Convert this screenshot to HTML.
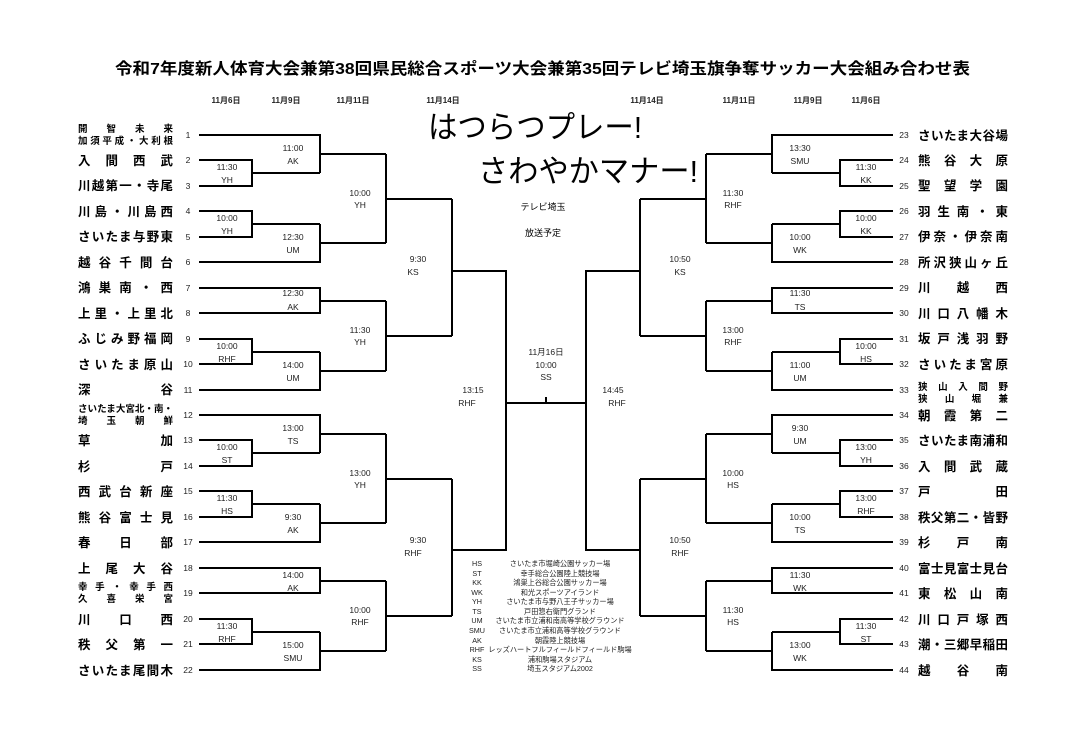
<!DOCTYPE html>
<html><head><meta charset="utf-8"><style>
html,body{margin:0;padding:0;background:#fff;}
svg{display:block;font-family:"Liberation Sans","Noto Sans CJK JP",sans-serif;}
.n{font-size:12.5px;font-weight:bold;fill:#000;}
.n2{font-size:9.5px;font-weight:bold;fill:#000;}
.num{font-size:8.5px;fill:#222;text-anchor:middle;}
.l{font-size:8.5px;fill:#222;text-anchor:middle;}
.d{font-size:8px;fill:#222;text-anchor:middle;font-weight:bold;}
.g{font-size:7.2px;fill:#222;}
</style></head><body>
<svg width="1083" height="737" viewBox="0 0 1083 737" xmlns="http://www.w3.org/2000/svg">
<rect width="1083" height="737" fill="#fff"/>
<text x="115" y="74" font-size="16" font-weight="bold" textLength="855" lengthAdjust="spacingAndGlyphs">令和7年度新人体育大会兼第38回県民総合スポーツ大会兼第35回テレビ埼玉旗争奪サッカー大会組み合わせ表</text>
<g class="d">
<text x="226" y="103">11月6日</text><text x="286" y="103">11月9日</text><text x="353" y="103">11月11日</text><text x="443" y="103">11月14日</text>
<text x="647" y="103">11月14日</text><text x="739" y="103">11月11日</text><text x="808" y="103">11月9日</text><text x="866" y="103">11月6日</text>
</g>
<text x="428" y="138" font-size="31" textLength="214" lengthAdjust="spacingAndGlyphs">はつらつプレー!</text>
<text x="478" y="182" font-size="31" textLength="220" lengthAdjust="spacingAndGlyphs">さわやかマナー!</text>
<text x="543" y="210" font-size="9" text-anchor="middle">テレビ埼玉</text>
<text x="543" y="236" font-size="9" text-anchor="middle">放送予定</text>

<g id="br" fill="none" stroke="#000" stroke-width="2">
<path d="M199,160H252V186H199M252,173H320M199,135H320V173M320,154H386"/>
<path d="M199,211H252V237H199M252,224H320M199,262H320V224M320,243H386M386,154V243M386,199H452"/>
<path d="M199,288H320V313H199M320,301H386M199,339H252V364H199M252,352H320M199,390H320V352M320,371H386M386,301V371M386,336H452M452,199V336"/>
<path d="M199,415H320V453M199,440H252V466H199M252,453H320M320,434H386"/>
<path d="M199,491H252V517H199M252,504H320M199,542H320V504M320,523H386M386,434V523M386,479H452"/>
<path d="M199,568H320V593H199M320,581H386M199,619H252V644H199M252,632H320M199,670H320V632M320,651H386M386,581V651M386,616H452M452,479V616"/>
<path d="M452,271H506V550H452"/>
</g>
<use href="#br" transform="translate(1092,0) scale(-1,1)"/>
<path d="M506,403H587M546,397V403" fill="none" stroke="#000" stroke-width="2"/>

<g class="l">
<text x="227" y="170">11:30</text><text x="227" y="183">YH</text>
<text x="227" y="221">10:00</text><text x="227" y="234">YH</text>
<text x="227" y="349">10:00</text><text x="227" y="362">RHF</text>
<text x="227" y="450">10:00</text><text x="227" y="463">ST</text>
<text x="227" y="501">11:30</text><text x="227" y="514">HS</text>
<text x="227" y="629">11:30</text><text x="227" y="642">RHF</text>
<text x="293" y="151">11:00</text><text x="293" y="164">AK</text>
<text x="293" y="240">12:30</text><text x="293" y="253">UM</text>
<text x="293" y="296">12:30</text><text x="293" y="310">AK</text>
<text x="293" y="368">14:00</text><text x="293" y="381">UM</text>
<text x="293" y="431">13:00</text><text x="293" y="444">TS</text>
<text x="293" y="520">9:30</text><text x="293" y="533">AK</text>
<text x="293" y="578">14:00</text><text x="293" y="591">AK</text>
<text x="293" y="648">15:00</text><text x="293" y="661">SMU</text>
<text x="360" y="196">10:00</text><text x="360" y="208">YH</text>
<text x="360" y="333">11:30</text><text x="360" y="345">YH</text>
<text x="360" y="476">13:00</text><text x="360" y="488">YH</text>
<text x="360" y="613">10:00</text><text x="360" y="625">RHF</text>
<text x="418" y="262">9:30</text><text x="413" y="275">KS</text>
<text x="418" y="543">9:30</text><text x="413" y="556">RHF</text>
<text x="473" y="393">13:15</text><text x="467" y="406">RHF</text>
<text x="546" y="355">11月16日</text><text x="546" y="368">10:00</text><text x="546" y="380">SS</text>
<text x="613" y="393">14:45</text><text x="617" y="406">RHF</text>
<text x="680" y="262">10:50</text><text x="680" y="275">KS</text>
<text x="680" y="543">10:50</text><text x="680" y="556">RHF</text>
<text x="733" y="196">11:30</text><text x="733" y="208">RHF</text>
<text x="733" y="333">13:00</text><text x="733" y="345">RHF</text>
<text x="733" y="476">10:00</text><text x="733" y="488">HS</text>
<text x="733" y="613">11:30</text><text x="733" y="625">HS</text>
<text x="800" y="151">13:30</text><text x="800" y="164">SMU</text>
<text x="800" y="240">10:00</text><text x="800" y="253">WK</text>
<text x="800" y="296">11:30</text><text x="800" y="310">TS</text>
<text x="800" y="368">11:00</text><text x="800" y="381">UM</text>
<text x="800" y="431">9:30</text><text x="800" y="444">UM</text>
<text x="800" y="520">10:00</text><text x="800" y="533">TS</text>
<text x="800" y="578">11:30</text><text x="800" y="591">WK</text>
<text x="800" y="648">13:00</text><text x="800" y="661">WK</text>
<text x="866" y="170">11:30</text><text x="866" y="183">KK</text>
<text x="866" y="221">10:00</text><text x="866" y="234">KK</text>
<text x="866" y="349">10:00</text><text x="866" y="362">HS</text>
<text x="866" y="450">13:00</text><text x="866" y="463">YH</text>
<text x="866" y="501">13:00</text><text x="866" y="514">RHF</text>
<text x="866" y="629">11:30</text><text x="866" y="642">ST</text>
</g>

<g class="num">
<text x="188" y="138">1</text><text x="188" y="163">2</text><text x="188" y="189">3</text><text x="188" y="214">4</text><text x="188" y="240">5</text><text x="188" y="265">6</text><text x="188" y="291">7</text><text x="188" y="316">8</text><text x="188" y="342">9</text><text x="188" y="367">10</text><text x="188" y="393">11</text>
<text x="188" y="418">12</text><text x="188" y="443">13</text><text x="188" y="469">14</text><text x="188" y="494">15</text><text x="188" y="520">16</text><text x="188" y="545">17</text><text x="188" y="571">18</text><text x="188" y="596">19</text><text x="188" y="622">20</text><text x="188" y="647">21</text><text x="188" y="673">22</text>
<text x="904" y="138">23</text><text x="904" y="163">24</text><text x="904" y="189">25</text><text x="904" y="214">26</text><text x="904" y="240">27</text><text x="904" y="265">28</text><text x="904" y="291">29</text><text x="904" y="316">30</text><text x="904" y="342">31</text><text x="904" y="367">32</text><text x="904" y="393">33</text>
<text x="904" y="418">34</text><text x="904" y="443">35</text><text x="904" y="469">36</text><text x="904" y="494">37</text><text x="904" y="520">38</text><text x="904" y="545">39</text><text x="904" y="571">40</text><text x="904" y="596">41</text><text x="904" y="622">42</text><text x="904" y="647">43</text><text x="904" y="673">44</text>
</g>

<g class="n">
<text x="78" y="165" textLength="95" lengthAdjust="spacing">入間西武</text>
<text x="78" y="190" textLength="95" lengthAdjust="spacing">川越第一・寺尾</text>
<text x="78" y="216" textLength="95" lengthAdjust="spacing">川島・川島西</text>
<text x="78" y="241" textLength="95" lengthAdjust="spacing">さいたま与野東</text>
<text x="78" y="267" textLength="95" lengthAdjust="spacing">越谷千間台</text>
<text x="78" y="292" textLength="95" lengthAdjust="spacing">鴻巣南・西</text>
<text x="78" y="318" textLength="95" lengthAdjust="spacing">上里・上里北</text>
<text x="78" y="343" textLength="95" lengthAdjust="spacing">ふじみ野福岡</text>
<text x="78" y="369" textLength="95" lengthAdjust="spacing">さいたま原山</text>
<text x="78" y="394" textLength="95" lengthAdjust="spacing">深谷</text>
<text x="78" y="445" textLength="95" lengthAdjust="spacing">草加</text>
<text x="78" y="471" textLength="95" lengthAdjust="spacing">杉戸</text>
<text x="78" y="496" textLength="95" lengthAdjust="spacing">西武台新座</text>
<text x="78" y="522" textLength="95" lengthAdjust="spacing">熊谷富士見</text>
<text x="78" y="547" textLength="95" lengthAdjust="spacing">春日部</text>
<text x="78" y="573" textLength="95" lengthAdjust="spacing">上尾大谷</text>
<text x="78" y="624" textLength="95" lengthAdjust="spacing">川口西</text>
<text x="78" y="649" textLength="95" lengthAdjust="spacing">秩父第一</text>
<text x="78" y="675" textLength="95" lengthAdjust="spacing">さいたま尾間木</text>
</g>
<g class="n2">
<text x="78" y="132" textLength="95" lengthAdjust="spacing">開智未来</text>
<text x="78" y="144" textLength="95" lengthAdjust="spacing">加須平成・大利根</text>
<text x="78" y="412" textLength="95" lengthAdjust="spacing">さいたま大宮北・南・</text>
<text x="78" y="424" textLength="95" lengthAdjust="spacing">埼玉朝鮮</text>
<text x="78" y="590" textLength="95" lengthAdjust="spacing">幸手・幸手西</text>
<text x="78" y="602" textLength="95" lengthAdjust="spacing">久喜栄宮</text>
<text x="918" y="390" textLength="90" lengthAdjust="spacing">狭山入間野</text>
<text x="918" y="402" textLength="90" lengthAdjust="spacing">狭山堀兼</text>
</g>
<g class="n">
<text x="918" y="140" textLength="90" lengthAdjust="spacing">さいたま大谷場</text>
<text x="918" y="165" textLength="90" lengthAdjust="spacing">熊谷大原</text>
<text x="918" y="190" textLength="90" lengthAdjust="spacing">聖望学園</text>
<text x="918" y="216" textLength="90" lengthAdjust="spacing">羽生南・東</text>
<text x="918" y="241" textLength="90" lengthAdjust="spacing">伊奈・伊奈南</text>
<text x="918" y="267" textLength="90" lengthAdjust="spacing">所沢狭山ヶ丘</text>
<text x="918" y="292" textLength="90" lengthAdjust="spacing">川越西</text>
<text x="918" y="318" textLength="90" lengthAdjust="spacing">川口八幡木</text>
<text x="918" y="343" textLength="90" lengthAdjust="spacing">坂戸浅羽野</text>
<text x="918" y="369" textLength="90" lengthAdjust="spacing">さいたま宮原</text>
<text x="918" y="420" textLength="90" lengthAdjust="spacing">朝霞第二</text>
<text x="918" y="445" textLength="90" lengthAdjust="spacing">さいたま南浦和</text>
<text x="918" y="471" textLength="90" lengthAdjust="spacing">入間武蔵</text>
<text x="918" y="496" textLength="90" lengthAdjust="spacing">戸田</text>
<text x="918" y="522" textLength="90" lengthAdjust="spacing">秩父第二・皆野</text>
<text x="918" y="547" textLength="90" lengthAdjust="spacing">杉戸南</text>
<text x="918" y="573" textLength="90" lengthAdjust="spacing">富士見富士見台</text>
<text x="918" y="598" textLength="90" lengthAdjust="spacing">東松山南</text>
<text x="918" y="624" textLength="90" lengthAdjust="spacing">川口戸塚西</text>
<text x="918" y="649" textLength="90" lengthAdjust="spacing">潮・三郷早稲田</text>
<text x="918" y="675" textLength="90" lengthAdjust="spacing">越谷南</text>
</g>

<g class="g">
<text x="477" y="566" text-anchor="middle">HS</text><text x="560" y="566" text-anchor="middle">さいたま市堀崎公園サッカー場</text>
<text x="477" y="576" text-anchor="middle">ST</text><text x="560" y="576" text-anchor="middle">幸手総合公園陸上競技場</text>
<text x="477" y="585" text-anchor="middle">KK</text><text x="560" y="585" text-anchor="middle">鴻巣上谷総合公園サッカー場</text>
<text x="477" y="595" text-anchor="middle">WK</text><text x="560" y="595" text-anchor="middle">和光スポーツアイランド</text>
<text x="477" y="604" text-anchor="middle">YH</text><text x="560" y="604" text-anchor="middle">さいたま市与野八王子サッカー場</text>
<text x="477" y="614" text-anchor="middle">TS</text><text x="560" y="614" text-anchor="middle">戸田惣右衛門グランド</text>
<text x="477" y="623" text-anchor="middle">UM</text><text x="560" y="623" text-anchor="middle">さいたま市立浦和南高等学校グラウンド</text>
<text x="477" y="633" text-anchor="middle">SMU</text><text x="560" y="633" text-anchor="middle">さいたま市立浦和高等学校グラウンド</text>
<text x="477" y="643" text-anchor="middle">AK</text><text x="560" y="643" text-anchor="middle">朝霞陸上競技場</text>
<text x="477" y="652" text-anchor="middle">RHF</text><text x="560" y="652" text-anchor="middle">レッズハートフルフィールドフィールド駒場</text>
<text x="477" y="662" text-anchor="middle">KS</text><text x="560" y="662" text-anchor="middle">浦和駒場スタジアム</text>
<text x="477" y="671" text-anchor="middle">SS</text><text x="560" y="671" text-anchor="middle">埼玉スタジアム2002</text>
</g>
</svg>
</body></html>
